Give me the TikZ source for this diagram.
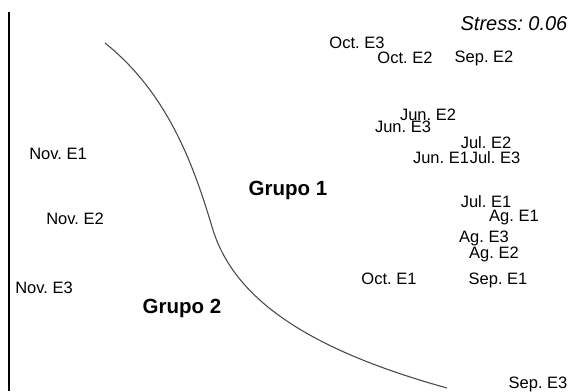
\documentclass[tikz,border=0pt]{standalone}
\usepackage{fontspec}
\setmainfont{Liberation Sans}
\usetikzlibrary{positioning}
\tikzset{every picture/.style={line width=0.75pt}}
\tikzset{
  obs/.style={inner sep=0pt, font=\fontsize{16.5}{18}\selectfont},
  grp/.style={inner sep=0pt, font=\fontsize{20.5}{22}\selectfont\bfseries},
}
\frenchspacing

\begin{document}
\begin{tikzpicture}[x=1pt,y=-1pt]
\useasboundingbox (0,0) rectangle (570,391);
\draw[line width=2.2pt] (9,12) -- (9,391);
%
\node[inner sep=0pt, font=\fontsize{20}{22}\selectfont\itshape] (stress) at (514,24) {Stress: 0.06};
%
\node[obs] (oct3) at (357,43) {Oct. E3};
\node[obs] (oct2) at (405,58) {Oct. E2};
\node[obs] (sep2) at (484,58) {Sep. E2};
\node[obs] (jun2) at (428,115) {Jun. E2};
\node[obs] (jun3) at (403,127) {Jun. E3};
\node[obs] (jul2) at (486,143) {Jul. E2};
\node[obs] (jun1) at (441,158) {Jun. E1};
\node[obs] (jul3) at (495,158) {Jul. E3};
\node[obs] (jul1) at (486,202) {Jul. E1};
\node[obs] (ag1) at (514,218) {Ag. E1};
\node[obs] (ag3) at (484,238) {Ag. E3};
\node[obs] (ag2) at (494,254) {Ag. E2};
\node[obs] (oct1) at (389,279) {Oct. E1};
\node[obs] (sep1) at (498,280) {Sep. E1};
\node[obs] (sep3) at (538,384) {Sep. E3};
%
\node[obs] (nov1) at (58,154) {Nov. E1};
\node[obs] (nov2) at (75,219) {Nov. E2};
\node[obs] (nov3) at (44,288) {Nov. E3};
%
\node[grp] (g1) at (288,190) {Grupo 1};
\node[grp] (g2) at (182,308) {Grupo 2};
%
\coordinate (top) at (105,43);
\coordinate (mid) at (213,230);
\coordinate (bot) at (447,388);
\draw[line width=1.1pt, black!70] (top) .. controls (170,95) and (195,170) .. (mid)
  .. controls (235,300) and (310,350) .. (bot);
\end{tikzpicture}
\end{document}
